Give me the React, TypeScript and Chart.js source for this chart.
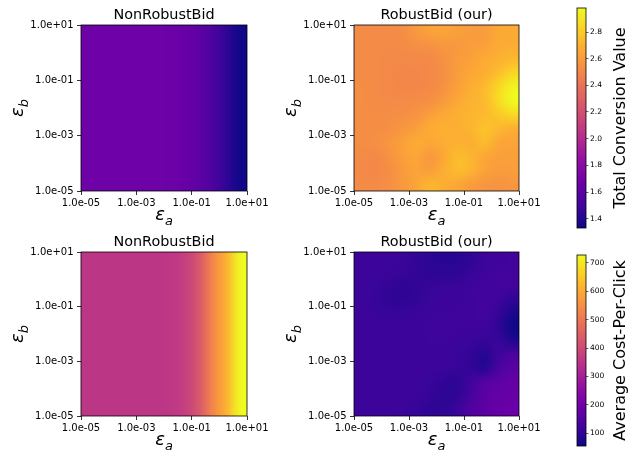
import React, { useEffect, useRef } from 'react';
import { Chart, registerables } from 'chart.js';

Chart.register(...registerables);

// ---------------- data ----------------
const LOG_MIN = -5; // log10(epsilon) lower edge
const LOG_MAX = 1; // log10(epsilon) upper edge
const EPS_TICKS = [-5, -3, -1, 1];

const TCV_MIN = 1.33;
const TCV_MAX = 2.98;
const TCV_TICKS = [1.4, 1.6, 1.8, 2.0, 2.2, 2.4, 2.6, 2.8];

const CPC_MIN = 55;
const CPC_MAX = 728;
const CPC_TICKS = [100, 200, 300, 400, 500, 600, 700];

// NonRobustBid: value depends only on eps_a (columns, half-decade cells)
const nonRobustTCV = [1.68, 1.68, 1.68, 1.68, 1.68, 1.68, 1.67, 1.65, 1.61, 1.54, 1.44, 1.34];
const nonRobustCPC = [351, 351, 351, 351, 351, 351, 356, 372, 425, 530, 610, 728];

// RobustBid: rows from eps_b = 1e1 (top) down to 1e-5, columns eps_a 1e-5 -> 1e1
const robustTCV = [
  [2.52, 2.52, 2.52, 2.53, 2.58, 2.63, 2.64, 2.62, 2.60, 2.60, 2.66, 2.67],
  [2.52, 2.52, 2.52, 2.52, 2.54, 2.55, 2.57, 2.58, 2.61, 2.62, 2.67, 2.68],
  [2.52, 2.52, 2.51, 2.51, 2.51, 2.51, 2.55, 2.60, 2.62, 2.67, 2.69, 2.73],
  [2.52, 2.52, 2.51, 2.50, 2.50, 2.51, 2.54, 2.60, 2.66, 2.68, 2.75, 2.85],
  [2.53, 2.52, 2.51, 2.50, 2.50, 2.51, 2.55, 2.62, 2.68, 2.73, 2.85, 2.96],
  [2.53, 2.52, 2.52, 2.52, 2.53, 2.54, 2.59, 2.65, 2.70, 2.73, 2.86, 2.98],
  [2.53, 2.53, 2.53, 2.54, 2.56, 2.61, 2.66, 2.69, 2.71, 2.73, 2.78, 2.85],
  [2.53, 2.53, 2.54, 2.57, 2.61, 2.67, 2.69, 2.68, 2.71, 2.77, 2.72, 2.68],
  [2.53, 2.54, 2.57, 2.62, 2.67, 2.65, 2.68, 2.70, 2.68, 2.74, 2.65, 2.64],
  [2.52, 2.51, 2.55, 2.61, 2.65, 2.58, 2.65, 2.74, 2.71, 2.65, 2.62, 2.62],
  [2.51, 2.50, 2.53, 2.59, 2.64, 2.60, 2.68, 2.74, 2.71, 2.63, 2.60, 2.61],
  [2.52, 2.52, 2.54, 2.58, 2.64, 2.72, 2.68, 2.65, 2.60, 2.57, 2.56, 2.57],
];

const robustCPC = [
  [116, 116, 116, 114, 105, 95, 89, 89, 100, 116, 120, 122],
  [116, 116, 114, 110, 104, 99, 95, 98, 108, 118, 122, 124],
  [116, 112, 105, 100, 102, 108, 112, 114, 118, 122, 126, 122],
  [116, 110, 100, 99, 104, 112, 116, 116, 120, 126, 120, 100],
  [116, 114, 110, 110, 114, 116, 118, 118, 120, 124, 108, 70],
  [116, 116, 116, 116, 116, 118, 120, 118, 118, 118, 100, 58],
  [116, 116, 116, 116, 116, 118, 118, 116, 112, 108, 112, 80],
  [116, 116, 116, 116, 116, 116, 116, 112, 104, 85, 120, 140],
  [116, 116, 116, 116, 116, 116, 114, 110, 104, 85, 136, 163],
  [116, 116, 116, 116, 116, 112, 100, 96, 120, 156, 169, 176],
  [116, 116, 116, 116, 114, 108, 96, 100, 130, 165, 176, 183],
  [116, 116, 116, 114, 110, 98, 98, 112, 150, 165, 186, 190],
];

// ---------------- styling ----------------
const FONT = '"DejaVu Sans", sans-serif';
const PLASMA = ['#0d0887', '#41049d', '#6a00a8', '#8f0da4', '#b12a90', '#cc4778', '#e16462', '#f2844b', '#fca636', '#fcce25', '#f0f921'];
const PLASMA_RGB = PLASMA.map((h) => [parseInt(h.slice(1, 3), 16), parseInt(h.slice(3, 5), 16), parseInt(h.slice(5, 7), 16)]);

function plasma(t: number): number[] {
  const c = Math.max(0, Math.min(1, t)) * 10;
  const i = Math.min(9, Math.floor(c));
  const f = c - i;
  const a = PLASMA_RGB[i];
  const b = PLASMA_RGB[i + 1];
  return [0, 1, 2].map((k) => Math.round(a[k] + (b[k] - a[k]) * f));
}

function expLabel(v: number): string {
  const e = Math.round(v);
  return '1.0e' + (e < 0 ? '-' : '+') + String(Math.abs(e)).padStart(2, '0');
}

type Pt = { x: number; y: number; v: number };

function gridPoints(rows: number[][]): Pt[] {
  const nR = rows.length;
  const nC = rows[0].length;
  const cw = (LOG_MAX - LOG_MIN) / nC;
  const ch = (LOG_MAX - LOG_MIN) / nR;
  const pts: Pt[] = [];
  rows.forEach((row, r) =>
    row.forEach((v, c) => pts.push({ x: LOG_MIN + (c + 0.5) * cw, y: LOG_MAX - (r + 0.5) * ch, v }))
  );
  return pts;
}

const MATH_MAIN = `italic 18px ${FONT}`;
const MATH_SUB = `italic 13px ${FONT}`;

function drawMath(ctx: CanvasRenderingContext2D, x: number, y: number, main: string, sub: string) {
  ctx.font = MATH_MAIN;
  const w1 = ctx.measureText(main).width;
  ctx.font = MATH_SUB;
  const w2 = ctx.measureText(sub).width;
  const start = x - (w1 + w2) / 2;
  ctx.textAlign = 'left';
  ctx.textBaseline = 'alphabetic';
  ctx.fillStyle = '#000';
  ctx.font = MATH_MAIN;
  ctx.fillText(main, start, y);
  ctx.font = MATH_SUB;
  ctx.fillText(sub, start + w1, y + 4.5);
}

type Rect = { left: number; top: number; width: number; height: number };
type Plot = { l: number; t: number; r: number; b: number };

function makeHeatmap(canvas: HTMLCanvasElement, c: Rect, p: Plot, title: string, rows: number[][], vmin: number, vmax: number) {
  const nR = rows.length;
  const nC = rows[0].length;
  let img: HTMLCanvasElement | null = null;
  const plugin = {
    id: 'heatmap',
    beforeDatasetsDraw(chart: any) {
      const ctx: CanvasRenderingContext2D = chart.ctx;
      const pts = chart.data.datasets[0].data as Pt[];
      if (!img) {
        img = document.createElement('canvas');
        img.width = nC;
        img.height = nR;
        const ic = img.getContext('2d') as CanvasRenderingContext2D;
        const id = ic.createImageData(nC, nR);
        const cw = (LOG_MAX - LOG_MIN) / nC;
        const ch = (LOG_MAX - LOG_MIN) / nR;
        pts.forEach((pt) => {
          const col = Math.round((pt.x - LOG_MIN) / cw - 0.5);
          const row = Math.round((LOG_MAX - pt.y) / ch - 0.5);
          const rgb = plasma((pt.v - vmin) / (vmax - vmin));
          const k = (row * nC + col) * 4;
          id.data[k] = rgb[0];
          id.data[k + 1] = rgb[1];
          id.data[k + 2] = rgb[2];
          id.data[k + 3] = 255;
        });
        ic.putImageData(id, 0, 0);
      }
      const xs = chart.scales.x;
      const ys = chart.scales.y;
      const x0 = xs.getPixelForValue(LOG_MIN);
      const x1 = xs.getPixelForValue(LOG_MAX);
      const y0 = ys.getPixelForValue(LOG_MAX);
      const y1 = ys.getPixelForValue(LOG_MIN);
      ctx.save();
      ctx.beginPath();
      ctx.rect(x0, y0, x1 - x0, y1 - y0);
      ctx.clip();
      ctx.imageSmoothingEnabled = true;
      (ctx as any).imageSmoothingQuality = 'high';
      ctx.drawImage(img, x0, y0, x1 - x0, y1 - y0);
      ctx.restore();
    },
    afterDraw(chart: any) {
      const ctx: CanvasRenderingContext2D = chart.ctx;
      const a = chart.chartArea;
      ctx.save();
      ctx.strokeStyle = '#000';
      ctx.lineWidth = 0.8;
      ctx.strokeRect(a.left, a.top, a.right - a.left, a.bottom - a.top);
      ctx.fillStyle = '#000';
      ctx.font = `14.4px ${FONT}`;
      ctx.textAlign = 'center';
      ctx.textBaseline = 'alphabetic';
      ctx.fillText(title, (a.left + a.right) / 2, a.top - 6.5);
      drawMath(ctx, (a.left + a.right) / 2, a.bottom + 29, 'ε', 'a');
      ctx.translate(23, (a.top + a.bottom) / 2);
      ctx.rotate(-Math.PI / 2);
      drawMath(ctx, 0, 0, 'ε', 'b');
      ctx.restore();
    },
  };
  const tickFont = { family: FONT, size: 10 };
  return new Chart(canvas, {
    type: 'scatter',
    data: { datasets: [{ data: gridPoints(rows) as any, pointRadius: 0, pointHoverRadius: 0 }] },
    options: {
      animation: false,
      responsive: false,
      events: [],
      layout: { padding: { top: p.t - c.top, left: 0, right: c.left + c.width - p.r, bottom: 0 } },
      plugins: { legend: { display: false }, tooltip: { enabled: false } },
      scales: {
        x: {
          type: 'linear',
          min: LOG_MIN,
          max: LOG_MAX,
          afterBuildTicks: (s: any) => {
            s.ticks = EPS_TICKS.map((v) => ({ value: v }));
          },
          afterFit: (s: any) => {
            s.height = c.top + c.height - p.b;
          },
          ticks: { callback: (v: any) => expLabel(Number(v)), font: tickFont, color: '#000', padding: 2, maxRotation: 0, autoSkip: false },
          grid: { drawOnChartArea: false, drawTicks: true, tickLength: 4, tickColor: '#000', tickWidth: 0.8 },
          border: { display: false },
        },
        y: {
          type: 'linear',
          min: LOG_MIN,
          max: LOG_MAX,
          afterBuildTicks: (s: any) => {
            s.ticks = EPS_TICKS.map((v) => ({ value: v }));
          },
          afterFit: (s: any) => {
            s.width = p.l - c.left;
          },
          ticks: { callback: (v: any) => expLabel(Number(v)), font: tickFont, color: '#000', padding: 3.5, autoSkip: false },
          grid: { drawOnChartArea: false, drawTicks: true, tickLength: 4, tickColor: '#000', tickWidth: 0.8 },
          border: { display: false },
        },
      },
    },
    plugins: [plugin],
  } as any);
}

function makeColorbar(canvas: HTMLCanvasElement, c: Rect, p: Plot, label: string, vmin: number, vmax: number, ticks: number[], digits: number) {
  const plugin = {
    id: 'colorbar',
    beforeDatasetsDraw(chart: any) {
      const ctx: CanvasRenderingContext2D = chart.ctx;
      const a = chart.chartArea;
      const ys = chart.scales.y;
      ctx.save();
      ctx.beginPath();
      ctx.rect(a.left, a.top, a.right - a.left, a.bottom - a.top);
      ctx.clip();
      for (let py = Math.floor(a.top); py < Math.ceil(a.bottom); py++) {
        const v = ys.getValueForPixel(py + 0.5);
        const rgb = plasma((v - vmin) / (vmax - vmin));
        ctx.fillStyle = `rgb(${rgb[0]},${rgb[1]},${rgb[2]})`;
        ctx.fillRect(a.left, py, a.right - a.left, 1);
      }
      ctx.restore();
    },
    afterDraw(chart: any) {
      const ctx: CanvasRenderingContext2D = chart.ctx;
      const a = chart.chartArea;
      ctx.save();
      ctx.strokeStyle = '#000';
      ctx.lineWidth = 0.8;
      ctx.strokeRect(a.left, a.top, a.right - a.left, a.bottom - a.top);
      ctx.translate(625 - c.left, (a.top + a.bottom) / 2);
      ctx.rotate(-Math.PI / 2);
      ctx.fillStyle = '#000';
      ctx.font = `16px ${FONT}`;
      ctx.textAlign = 'center';
      ctx.textBaseline = 'alphabetic';
      ctx.fillText(label, 0, 0);
      ctx.restore();
    },
  };
  return new Chart(canvas, {
    type: 'scatter',
    data: { datasets: [] },
    options: {
      animation: false,
      responsive: false,
      events: [],
      layout: { padding: { top: p.t - c.top, left: p.l - c.left, right: 0, bottom: c.top + c.height - p.b } },
      plugins: { legend: { display: false }, tooltip: { enabled: false } },
      scales: {
        x: { type: 'linear', display: false, min: 0, max: 1 },
        y: {
          type: 'linear',
          position: 'right',
          min: vmin,
          max: vmax,
          afterBuildTicks: (s: any) => {
            s.ticks = ticks.map((v) => ({ value: v }));
          },
          afterFit: (s: any) => {
            s.width = c.left + c.width - p.r;
          },
          ticks: { callback: (v: any) => Number(v).toFixed(digits), font: { family: FONT, size: 7.5 }, color: '#000', padding: 1.5, autoSkip: false },
          grid: { drawOnChartArea: false, drawTicks: true, tickLength: 2.5, tickColor: '#000', tickWidth: 0.6 },
          border: { display: false },
        },
      },
    },
    plugins: [plugin],
  } as any);
}

// ---------------- layout ----------------
const HEAT_CANVAS: Rect[] = [
  { left: 0, top: 0, width: 285, height: 235 },
  { left: 273, top: 0, width: 285, height: 235 },
  { left: 0, top: 226, width: 285, height: 226 },
  { left: 273, top: 226, width: 285, height: 226 },
];
const HEAT_PLOT: Plot[] = [
  { l: 81, t: 25, r: 247, b: 191 },
  { l: 354, t: 25, r: 519, b: 191 },
  { l: 81, t: 252, r: 247, b: 416 },
  { l: 354, t: 252, r: 519, b: 416 },
];
const CBAR_CANVAS: Rect[] = [
  { left: 560, top: 0, width: 74, height: 240 },
  { left: 560, top: 240, width: 74, height: 212 },
];
const CBAR_PLOT: Plot[] = [
  { l: 577, t: 8, r: 586, b: 228 },
  { l: 577, t: 255, r: 586, b: 451 },
];

export default function App() {
  const h0 = useRef<HTMLCanvasElement>(null);
  const h1 = useRef<HTMLCanvasElement>(null);
  const h2 = useRef<HTMLCanvasElement>(null);
  const h3 = useRef<HTMLCanvasElement>(null);
  const c0 = useRef<HTMLCanvasElement>(null);
  const c1 = useRef<HTMLCanvasElement>(null);
  const heatRefs = [h0, h1, h2, h3];
  const cbarRefs = [c0, c1];

  useEffect(() => {
    const charts: Chart[] = [];
    charts.push(makeHeatmap(h0.current!, HEAT_CANVAS[0], HEAT_PLOT[0], 'NonRobustBid', [nonRobustTCV], TCV_MIN, TCV_MAX));
    charts.push(makeHeatmap(h1.current!, HEAT_CANVAS[1], HEAT_PLOT[1], 'RobustBid (our)', robustTCV, TCV_MIN, TCV_MAX));
    charts.push(makeHeatmap(h2.current!, HEAT_CANVAS[2], HEAT_PLOT[2], 'NonRobustBid', [nonRobustCPC], CPC_MIN, CPC_MAX));
    charts.push(makeHeatmap(h3.current!, HEAT_CANVAS[3], HEAT_PLOT[3], 'RobustBid (our)', robustCPC, CPC_MIN, CPC_MAX));
    charts.push(makeColorbar(c0.current!, CBAR_CANVAS[0], CBAR_PLOT[0], 'Total Conversion Value', TCV_MIN, TCV_MAX, TCV_TICKS, 1));
    charts.push(makeColorbar(c1.current!, CBAR_CANVAS[1], CBAR_PLOT[1], 'Average Cost-Per-Click', CPC_MIN, CPC_MAX, CPC_TICKS, 0));
    return () => charts.forEach((ch) => ch.destroy());
  }, []);

  return (
    <div style={{ position: 'absolute', left: 0, top: 0, width: 634, height: 452, background: '#fff', overflow: 'hidden' }}>
      {HEAT_CANVAS.map((r, i) => (
        <canvas key={'h' + i} ref={heatRefs[i]} width={r.width} height={r.height} style={{ position: 'absolute', left: r.left, top: r.top, width: r.width, height: r.height }} />
      ))}
      {CBAR_CANVAS.map((r, i) => (
        <canvas key={'c' + i} ref={cbarRefs[i]} width={r.width} height={r.height} style={{ position: 'absolute', left: r.left, top: r.top, width: r.width, height: r.height }} />
      ))}
    </div>
  );
}
